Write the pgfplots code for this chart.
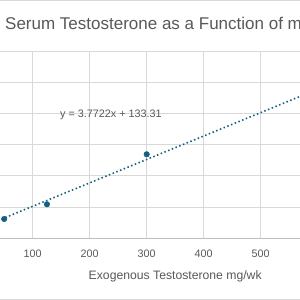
\documentclass[border=0pt]{standalone}
\usepackage{pgfplots}
\pgfplotsset{compat=1.18}
\usepackage{fontspec}
\setmainfont{Liberation Sans}
\definecolor{txt}{HTML}{595959}
\definecolor{grd}{HTML}{D9D9D9}
\definecolor{axl}{HTML}{BFBFBF}
\definecolor{ser}{HTML}{156082}
\begin{document}
\begin{tikzpicture}[x=1pt,y=1pt]
\path[use as bounding box, clip] (0,0) rectangle (300,300);
\fill[white] (0,0) rectangle (300,300);
\draw[grd, line width=1pt] (-10,299.5) -- (310,299.5);
\draw[grd, line width=1pt] (-10,0.6) -- (310,0.6);
\begin{axis}[
  at={(-24.3pt,62pt)}, anchor=south west,
  scale only axis, width=399pt, height=186.3pt,
  xmin=0, xmax=700, ymin=0, ymax=3000,
  xtick={0,100,...,700}, ytick={0,500,...,3000},
  xticklabels={,100,200,300,400,500,,},
  yticklabels={},
  xmajorgrids, ymajorgrids,
  grid style={grd, line width=0.9pt},
  axis x line*=bottom, axis y line*=left,
  y axis line style={draw=none},
  x axis line style={axl, line width=1pt, -},
  major tick length=0pt,
  tick label style={font=\fontsize{10.8}{12}\selectfont, color=txt},
  xticklabel style={anchor=base, yshift=-19.7pt, inner sep=0pt},
  /pgf/number format/assume math mode=true,
  xlabel={Exogenous Testosterone mg/wk},
  xlabel style={font=\fontsize{12.2}{14}\selectfont, color=txt, at={(axis description cs:0.5,0)}, anchor=base, yshift=-41pt, inner sep=0pt},
  clip=false,
]
\addplot[color=ser, line width=1.6pt, dash pattern=on 1.5pt off 2.5pt, no markers] coordinates {(0,133.31) (700,2773.85)};
\addplot[only marks, mark=*, mark size=2.8pt, color=ser, mark options={fill=ser, draw=ser}] coordinates {(50,306) (125,543) (300,1348)};
\end{axis}
\node[anchor=base west, inner sep=0pt, color=txt, font=\fontsize{10.8}{12}\selectfont] at (60,182.3) {y = 3.7722x + 133.31};
\node[anchor=base west, inner sep=0pt, color=txt, font=\fontsize{17}{20}\selectfont] at (5,270.7) {Serum Testosterone as a Function of mg/wk};
\end{tikzpicture}
\end{document}
